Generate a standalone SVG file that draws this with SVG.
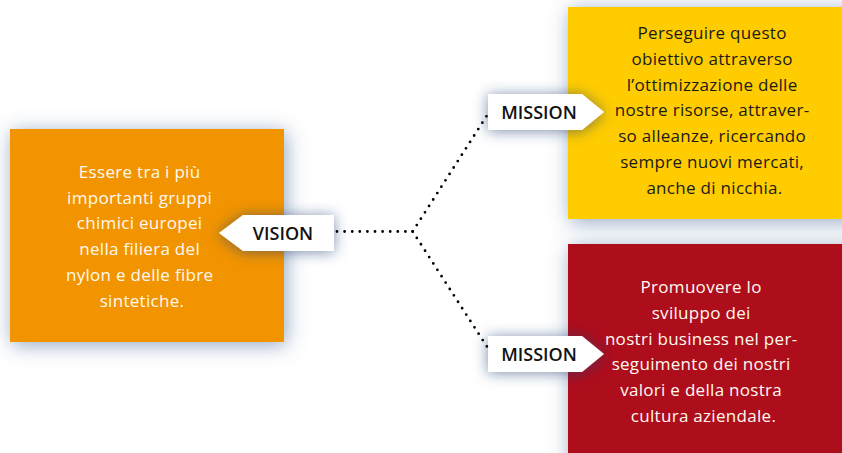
<svg xmlns="http://www.w3.org/2000/svg" width="842" height="453" viewBox="0 0 842 453">
  <defs>
    <!-- soft bluish halo under the coloured panels -->
    <filter id="panelShadow" x="-25%" y="-25%" width="150%" height="150%">
      <feDropShadow dx="2" dy="3" stdDeviation="10" flood-color="#4d6c9c" flood-opacity="0.6"/>
    </filter>
    <!-- tighter, darker shadow under the white arrow tags -->
    <filter id="tagShadow" x="-30%" y="-60%" width="160%" height="220%">
      <feDropShadow dx="0" dy="1" stdDeviation="7" flood-color="#1f3c72" flood-opacity="0.6"/>
    </filter>
    <style>
      .panel-text { font-family: "Open Sans", "Liberation Sans", sans-serif; font-size: 17px; letter-spacing: 0.3px; text-anchor: middle; }
      .light { fill: #fffaf0; }
      .dark { fill: #1a1a1a; }
      .tag { fill: #ffffff; filter: url(#tagShadow); }
      .tag-text { font-family: "Open Sans", "Liberation Sans", sans-serif; font-size: 18px; font-weight: 600; fill: #111111; text-anchor: middle; }
      .dots { fill: none; stroke: #000000; stroke-width: 2.8; stroke-linecap: round; stroke-dasharray: 0 7.6; }
    </style>
  </defs>

  <rect width="842" height="453" fill="#ffffff"/>

  <!-- upper mission panel -->
  <g id="mission-resources">
    <rect x="568" y="7" width="290" height="212" fill="#ffcc00" filter="url(#panelShadow)"/>
    <text class="panel-text dark" y="39">
      <tspan x="714.5">Perseguire questo</tspan>
      <tspan x="714.5" dy="25.8">obiettivo attraverso</tspan>
      <tspan x="714.5" dy="25.8">l’ottimizzazione delle</tspan>
      <tspan x="714.5" dy="25.8">nostre risorse, attraver-</tspan>
      <tspan x="714.5" dy="25.8">so alleanze, ricercando</tspan>
      <tspan x="714.5" dy="25.8">sempre nuovi mercati,</tspan>
      <tspan x="714.5" dy="25.8">anche di nicchia.</tspan>
    </text>
    <polygon class="tag" points="488,94 582,94 604,112 582,130 488,130"/>
    <text class="tag-text" x="539" y="118.5">MISSION</text>
  </g>

  <!-- lower mission panel -->
  <g id="mission-values">
    <rect x="568" y="244" width="290" height="230" fill="#ae0b1b" filter="url(#panelShadow)"/>
    <text class="panel-text light" y="293">
      <tspan x="703.5">Promuovere lo</tspan>
      <tspan x="703.5" dy="25.8">sviluppo dei</tspan>
      <tspan x="703.5" dy="25.8">nostri business nel per-</tspan>
      <tspan x="703.5" dy="25.8">seguimento dei nostri</tspan>
      <tspan x="703.5" dy="25.8">valori e della nostra</tspan>
      <tspan x="703.5" dy="25.8">cultura aziendale.</tspan>
    </text>
    <polygon class="tag" points="488,336 582,336 604,354 582,372 488,372"/>
    <text class="tag-text" x="539" y="360.5">MISSION</text>
  </g>

  <!-- vision panel -->
  <g id="vision">
    <rect x="10" y="129" width="274" height="213" fill="#f29400" filter="url(#panelShadow)"/>
    <text class="panel-text light" y="178">
      <tspan x="142">Essere tra i più</tspan>
      <tspan x="142" dy="25.7">importanti gruppi</tspan>
      <tspan x="142" dy="25.7">chimici europei</tspan>
      <tspan x="142" dy="25.7">nella filiera del</tspan>
      <tspan x="142" dy="25.7">nylon e delle fibre</tspan>
      <tspan x="142" dy="25.7">sintetiche.</tspan>
    </text>
    <polygon class="tag" points="219,233 243,215 334,215 334,251 243,251"/>
    <text class="tag-text" x="283" y="240">VISION</text>
  </g>

  <!-- dotted connectors branching from the vision tag -->
  <g id="connectors">
    <path class="dots" d="M337,231.5 L412.7,231.5"/>
    <path class="dots" d="M412.7,231.5 L487.3,115"/>
    <path class="dots" d="M412.7,231.5 L487,346.7"/>
  </g>
</svg>
